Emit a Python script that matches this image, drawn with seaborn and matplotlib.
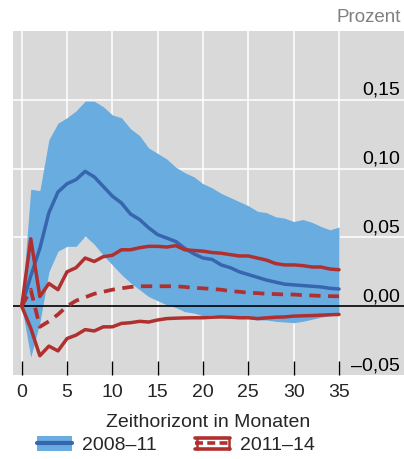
import numpy as np
import pandas as pd
import matplotlib
matplotlib.use("Agg")
import matplotlib.pyplot as plt
import seaborn as sns
from matplotlib.patches import Rectangle
from matplotlib.lines import Line2D
from matplotlib.legend_handler import HandlerBase

# ---------------- data ----------------
months = list(range(36))

band_2008_upper = [0.0, 0.085, 0.084, 0.121, 0.133, 0.137, 0.142, 0.149, 0.149, 0.145,
                   0.139, 0.137, 0.129, 0.124, 0.115, 0.111, 0.107, 0.101, 0.097, 0.094,
                   0.089, 0.086, 0.082, 0.079, 0.076, 0.073, 0.069, 0.068, 0.065, 0.064,
                   0.0615, 0.063, 0.061, 0.058, 0.0555, 0.0575]
band_2008_lower = [0.0, -0.037, -0.012, 0.025, 0.040, 0.0435, 0.0435, 0.051, 0.045, 0.037,
                   0.030, 0.023, 0.017, 0.012, 0.007, 0.004, 0.001, -0.001, -0.004, -0.005,
                   -0.007, -0.006, -0.007, -0.008, -0.008, -0.009, -0.010, -0.010, -0.011, -0.0115,
                   -0.012, -0.011, -0.0095, -0.008, -0.007, -0.006]
est_2008 = [0.0, 0.022, 0.042, 0.068, 0.083, 0.089, 0.092, 0.098, 0.094, 0.087,
            0.080, 0.075, 0.067, 0.063, 0.057, 0.052, 0.0495, 0.047, 0.042, 0.038,
            0.035, 0.034, 0.030, 0.028, 0.025, 0.023, 0.021, 0.019, 0.0175, 0.016,
            0.0155, 0.015, 0.0145, 0.014, 0.013, 0.0125]

upper_2011 = [0.0, 0.049, 0.007, 0.0165, 0.012, 0.025, 0.028, 0.035, 0.0325, 0.036,
              0.037, 0.041, 0.041, 0.0425, 0.0435, 0.0435, 0.043, 0.044, 0.041, 0.0405,
              0.040, 0.039, 0.0385, 0.0375, 0.0365, 0.0365, 0.035, 0.0335, 0.031, 0.030,
              0.030, 0.0295, 0.0285, 0.0285, 0.027, 0.0265]
est_2011 = [0.0, 0.012, -0.015, -0.011, -0.006, 0.000, 0.004, 0.0065, 0.009, 0.0105,
            0.012, 0.013, 0.014, 0.0145, 0.0145, 0.0145, 0.0145, 0.0145, 0.014, 0.0133,
            0.013, 0.0125, 0.012, 0.011, 0.0105, 0.0098, 0.0095, 0.009, 0.0088, 0.0085,
            0.0085, 0.008, 0.0078, 0.0075, 0.0073, 0.0072]
lower_2011 = [0.0, -0.016, -0.036, -0.029, -0.0325, -0.0235, -0.021, -0.017, -0.018, -0.015,
              -0.015, -0.0125, -0.012, -0.011, -0.0115, -0.010, -0.009, -0.0087, -0.0085, -0.0084,
              -0.0084, -0.008, -0.0078, -0.008, -0.0084, -0.0084, -0.009, -0.0085, -0.008, -0.0078,
              -0.0072, -0.007, -0.0068, -0.0065, -0.0062, -0.006]

x_ticks = [0, 5, 10, 15, 20, 25, 30, 35]
y_ticks = [0.05, 0.10, 0.15]
y_labels = [(-0.05, "\u20130,05"), (0.00, "0,00"), (0.05, "0,05"), (0.10, "0,10"), (0.15, "0,15")]
legend_labels = ["2008\u201311", "2011\u201314"]
x_title = "Zeithorizont in Monaten"
unit_label = "Prozent"

# ---------------- style ----------------
BG = "#d9d9d9"
BAND = "#69ace0"
BLUE = "#3866ae"
RED = "#b0302f"

sns.set_theme(style="whitegrid", rc={"axes.facecolor": BG, "grid.color": "white",
                                     "grid.linewidth": 1.1})
plt.rcParams["font.family"] = ["Liberation Sans", "DejaVu Sans"]
FS = 14

df = pd.DataFrame({"month": months, "est_2008": est_2008, "upper_2011": upper_2011,
                   "est_2011": est_2011, "lower_2011": lower_2011})

fig = plt.figure(figsize=(4.04, 4.59), dpi=100)
ax = fig.add_axes([13 / 404, 1 - 375 / 459, 1 - 13 / 404, (375 - 31) / 459])
ax.set_facecolor(BG)
ax.set_axisbelow(True)

ax.fill_between(months, band_2008_lower, band_2008_upper, color=BAND, lw=0, zorder=1.5)
ax.axhline(0, color="black", lw=1.2, zorder=2)

sns.lineplot(data=df, x="month", y="est_2008", ax=ax, color=BLUE, lw=2.5, zorder=3)
sns.lineplot(data=df, x="month", y="upper_2011", ax=ax, color=RED, lw=2.5, zorder=4)
sns.lineplot(data=df, x="month", y="lower_2011", ax=ax, color=RED, lw=2.5, zorder=4)
sns.lineplot(data=df, x="month", y="est_2011", ax=ax, color=RED, lw=2.7, zorder=4)
ax.lines[-1].set_dashes((3.0, 2.0))

ax.set_xlim(-0.96, 42.17)
ax.set_ylim(-0.05, 0.20)
ax.set_xticks(x_ticks)
ax.set_xticklabels([str(t) for t in x_ticks])
ax.set_yticks(y_ticks)
ax.set_yticklabels([])
ax.grid(True, axis="both", color="white", lw=1.1)
ax.tick_params(axis="x", direction="in", length=10, width=1.0, color="black",
               labelsize=FS, pad=6.5, bottom=True)
ax.tick_params(axis="y", length=0)
for s in ax.spines.values():
    s.set_visible(False)
ax.set_xlabel(x_title, fontsize=FS, labelpad=9)
ax.set_ylabel("")

for v, txt in y_labels:
    ax.annotate(txt, xy=(0.99, v), xycoords=ax.get_yaxis_transform(),
                xytext=(0, 3.5), textcoords="offset points",
                ha="right", va="baseline", fontsize=FS, color="black")

fig.text(401 / 404, 1 - 17 / 459, unit_label, ha="right", va="center",
         fontsize=13.5, color="#808080")


# ---------------- legend ----------------
class BlueBandHandler(HandlerBase):
    def create_artists(self, legend, orig_handle, xd, yd, w, h, fs, trans):
        r = Rectangle((-xd, -yd), w, h, facecolor=BAND, edgecolor="none", transform=trans)
        ln = Line2D([-xd, -xd + w], [-yd + h / 2] * 2, color=BLUE, lw=3, transform=trans)
        return [r, ln]


class RedBandHandler(HandlerBase):
    def create_artists(self, legend, orig_handle, xd, yd, w, h, fs, trans):
        top = Line2D([-xd, -xd + w], [-yd + h - 1.2] * 2, color=RED, lw=2.6, transform=trans)
        bot = Line2D([-xd, -xd + w], [-yd + 1.2] * 2, color=RED, lw=2.6, transform=trans)
        mid = Line2D([-xd, -xd + w], [-yd + h / 2] * 2, color=RED, lw=2.6,
                     dashes=(2.2, 1.2), transform=trans)
        side_l = Line2D([-xd + 0.9, -xd + 0.9], [-yd + 1.2, -yd + h - 1.2], color=RED, lw=1.8, transform=trans)
        side_r = Line2D([-xd + w - 0.9, -xd + w - 0.9], [-yd + 1.2, -yd + h - 1.2], color=RED, lw=1.8, transform=trans)
        return [top, bot, mid, side_l, side_r]


class BlueKey: pass
class RedKey: pass


fig.legend([BlueKey(), RedKey()], legend_labels,
           handler_map={BlueKey: BlueBandHandler(), RedKey: RedBandHandler()},
           loc="center", bbox_to_anchor=(176 / 404, 1 - 445 / 459), ncol=2, frameon=False,
           fontsize=FS, handlelength=1.8, handleheight=0.8, handletextpad=0.5,
           columnspacing=2.0, borderpad=0, borderaxespad=0)

fig.savefig("out.png", dpi=100)
